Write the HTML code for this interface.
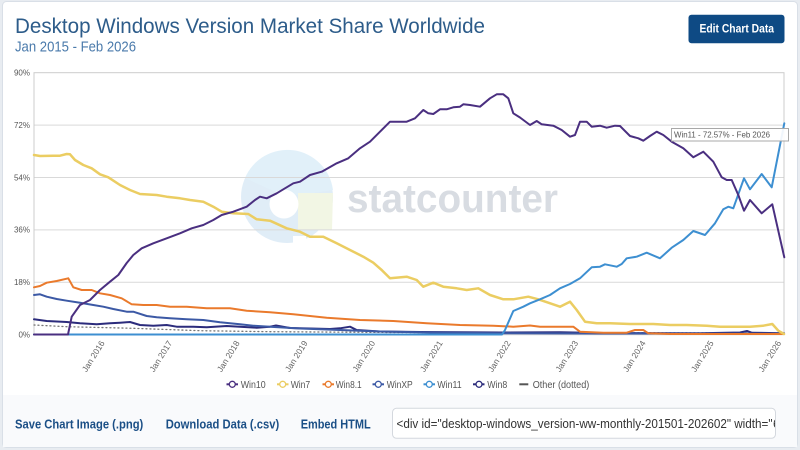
<!DOCTYPE html>
<html><head><meta charset="utf-8"><style>
html,body{margin:0;padding:0;background:#e8ecf1;}
svg{display:block;font-family:"Liberation Sans",Arial,sans-serif;}
</style></head><body>
<svg width="800" height="450" viewBox="0 0 800 450" xmlns="http://www.w3.org/2000/svg">
<rect x="0" y="0" width="800" height="450" fill="#e8ecf1"/>
<rect x="2.5" y="1.5" width="795" height="446" rx="4" fill="#ffffff" stroke="#d9dfe7"/>
<rect x="3" y="395" width="794" height="52" fill="#f9fafc"/>

<!-- title -->
<text x="15" y="33" font-size="21" fill="#2d5c8a" textLength="470" lengthAdjust="spacingAndGlyphs">Desktop Windows Version Market Share Worldwide</text>
<text x="15" y="51.7" font-size="15" fill="#4a7aab" textLength="121" lengthAdjust="spacingAndGlyphs">Jan 2015 - Feb 2026</text>

<!-- button -->
<rect x="688.5" y="14.7" width="96" height="28.6" rx="3" fill="#0e4a84"/>
<text x="699.5" y="32.5" font-size="11.5" font-weight="bold" fill="#ffffff" textLength="74.5" lengthAdjust="spacingAndGlyphs">Edit Chart Data</text>

<!-- watermark -->
<g opacity="0.75">
<circle cx="287" cy="197" r="46" fill="#d6e7f5"/>
<path d="M287,197 L245,178 A46,46 0 0 1 333,190 Z" fill="#d8ecf8"/>
<path d="M298,193 L333,193 L332,230 L298,230 Z" fill="#eef3dc"/>
<path d="M293,236 L306,236 L306,245 L293,245 Z" fill="#ffffff"/>
<circle cx="284" cy="204" r="14.5" fill="#ffffff"/>
</g>
<text x="347" y="212" font-size="40" font-weight="bold" fill="#d8dce2" textLength="211" lengthAdjust="spacingAndGlyphs">statcounter</text>

<!-- grid -->
<g stroke="#d9d9d9" stroke-width="1" fill="none">
<line x1="34" y1="125.1" x2="784" y2="125.1"/>
<line x1="34" y1="177.5" x2="784" y2="177.5"/>
<line x1="34" y1="229.9" x2="784" y2="229.9"/>
<line x1="34" y1="282.3" x2="784" y2="282.3"/>
<rect x="34" y="72.7" width="750" height="262" stroke="#cccccc"/>
</g>

<!-- y labels -->
<g font-size="8" fill="#555" text-anchor="end">
<text x="30" y="75.5">90%</text>
<text x="30" y="127.9">72%</text>
<text x="30" y="180.3">54%</text>
<text x="30" y="232.7">36%</text>
<text x="30" y="285.1">18%</text>
<text x="30" y="337.5">0%</text>
</g>

<!-- x labels -->
<g font-size="8.5" fill="#666" text-anchor="end">
<text transform="translate(105,343) rotate(-58)">Jan 2016</text>
<text transform="translate(172.5,343) rotate(-58)">Jan 2017</text>
<text transform="translate(240,343) rotate(-58)">Jan 2018</text>
<text transform="translate(308,343) rotate(-58)">Jan 2019</text>
<text transform="translate(375.5,343) rotate(-58)">Jan 2020</text>
<text transform="translate(443,343) rotate(-58)">Jan 2021</text>
<text transform="translate(511,343) rotate(-58)">Jan 2022</text>
<text transform="translate(578.5,343) rotate(-58)">Jan 2023</text>
<text transform="translate(646,343) rotate(-58)">Jan 2024</text>
<text transform="translate(714,343) rotate(-58)">Jan 2025</text>
<text transform="translate(781.5,343) rotate(-58)">Jan 2026</text>
</g>

<!-- series -->
<g fill="none" stroke-linejoin="round" stroke-linecap="round">
<polyline stroke="#777" stroke-width="1.3" stroke-dasharray="1,3" points="34,325 66.7,326.7 133.3,328.3 200,330.7 270,331.7 400,332.5 784,333"/>
<polyline stroke="#2c2c7c" stroke-width="2" points="34,319.3 46.7,321 66.7,322 80,323.3 96.7,324.3 110,323.3 120,322.7 130,322 140,325 153.3,325.7 166.7,325 176.7,326.7 193.3,326.7 206.7,327.3 226.7,326 240,326.7 256.7,327.7 270,326.7 276,325.5 290,328 310,328.5 330,329 340,328.3 350,326.7 356.7,330 380,331.5 420,332 500,332.5 560,332.2 600,333 700,333.2 740,332.5 747,331 752,332.8 784,333.2"/>
<polyline stroke="#3c59a5" stroke-width="2" points="34,295 40,294.3 46.7,296.7 56.7,299 66.7,300.7 80,302.7 93.3,305 103.3,306.7 113.3,309 126.7,311.7 133.3,311.7 146.7,316 156.7,317.3 170,318.3 186.7,319.3 203.3,320 220,322.3 240,324.3 253.3,325.7 270,326.7 300,328.5 340,330 380,331.5 430,332.5 500,333.2 600,333.5 784,333.8"/>
<polyline stroke="#ea7a2c" stroke-width="2" points="34,287.3 40,286 46.7,282.7 56.7,281 68.3,278.3 73.3,287.3 81.7,290 91.7,290 100,293.3 110,295 121.7,298.3 131.7,304.3 143.3,305 156.7,305 170,306.7 186.7,306.7 206.7,308.3 230,308.3 246.7,310.7 270,312.3 293.3,314.3 326.7,317.7 360,320 393.3,321 426.7,323.3 460,325 493.3,325.7 513.3,326.7 530,325.5 540,326.7 573.3,326.7 580,331.7 603.3,332.7 626.7,332.7 635,330 643.3,330 648.3,333.3 670,334 784,334"/>
<polyline stroke="#ebcd62" stroke-width="2.5" points="34,155 40,156 53.3,155.7 60,155.7 66.7,154 70,154.3 75,160 83.3,165 91.7,168.3 100,174.3 108.3,177.3 120,185 130,190 140,194 156.7,195 166.7,196.7 180,198.3 190,200 203.3,201.7 213.3,206.7 221.7,211.7 233.3,213.3 248.3,214 256.7,219.3 270,220.7 286.7,228.3 300,231.7 310,236.7 323.3,236.7 336.7,243.3 350,250 363.3,256.7 373.3,262.7 381.7,270 390,278.3 406.7,276.7 416.7,280 423.3,286.7 433.3,282.7 443.3,286.7 456.7,288.3 466.7,290 478.3,288.3 490,295 503.3,299.3 513.3,299.3 528.3,296.7 538.3,299.3 548.3,302.7 560,306.7 570,301.7 576.7,310 585,321.7 596.7,323.3 610,323.3 630,324 653.3,324 670,325 686.7,325 706.7,325.7 720,326.7 733.3,326.7 750,326.7 763.3,325.7 772.3,324 778.3,330.7 784,334"/>
<polyline stroke="#3d8fd1" stroke-width="2" points="34,334.5 502,334.5 505,330 513.3,311 523.3,306.7 530,303.3 540,299.3 550,295 560,288.3 570,284 580,278.3 591.7,267.3 600,266.7 605,264.3 616.7,266.7 621.7,264 626.7,258.3 636.7,256.7 646.7,252.7 660,258.3 671.7,247.7 683.3,240 693.3,231 705,235 715,223.3 723.3,209.3 728.3,206.7 733.3,208.3 744,178.3 750,189.3 761.7,174 771.7,187.3 784.3,123.3"/>
<polyline stroke="#4a2f80" stroke-width="2" points="34,334.5 68,334.5 71.7,316.7 80,305 90,300 100,290 110,281.7 118.3,275 126.7,263 133.3,255 141.7,248.3 153.3,243.3 166.7,238.3 180,233.3 191.7,228.3 203.3,225 213.3,220 221.7,215 233.3,211.7 246.7,206.7 255,200 260,196.7 266.7,198.3 276.7,193.3 293.3,183.3 300,181.7 310,175 321.7,171.7 336.7,163.3 348.3,158.3 360,148.3 370,141.7 380,131.7 390,121.7 406.7,121.7 415,118.3 423.3,110 428.3,113.3 433.3,114 440,109.3 446.7,109.3 453.3,107.3 460,106.7 463.3,104.3 470,105 480,106.7 490,98.3 496.7,94.3 503.3,94.3 508.3,98.3 513.3,113.3 520,117.5 530,125 536.7,121 541.7,124.3 553.3,125.7 561.7,130 570,136.7 575,135 580,121.7 586.7,121.7 591.7,126.7 600,125.7 606.7,127.7 615,125.7 620,126 630,136 638.3,138.3 643.3,140.7 650,136 656.7,131.7 663.3,135 671.7,141.7 683.3,148.3 693.3,157.3 703.3,151.7 713.3,161.7 721.7,177.3 726.7,180 731.7,180 738.3,195 744,210.7 750,200 761.7,213.3 772.3,204.3 784.3,257.3"/>
</g>

<!-- tooltip -->
<rect x="671.5" y="128.5" width="117" height="12.5" fill="#ffffff" fill-opacity="0.92" stroke="#a8a8a8" stroke-width="1"/>
<text x="674" y="137.5" font-size="8" fill="#555" textLength="96" lengthAdjust="spacingAndGlyphs">Win11 - 72.57% - Feb 2026</text>

<!-- legend -->
<g stroke-width="2" fill="#fff">
<line x1="226.5" y1="384.3" x2="238" y2="384.3" stroke="#4a2f80"/><circle cx="232.3" cy="384.3" r="3" stroke="#4a2f80" stroke-width="1.3"/>
<line x1="277" y1="384.3" x2="288.5" y2="384.3" stroke="#ebcd62"/><circle cx="282.7" cy="384.3" r="3" stroke="#ebcd62" stroke-width="1.3"/>
<line x1="322.5" y1="384.3" x2="334" y2="384.3" stroke="#ea7a2c"/><circle cx="328.3" cy="384.3" r="3" stroke="#ea7a2c" stroke-width="1.3"/>
<line x1="372.5" y1="384.3" x2="384" y2="384.3" stroke="#3c59a5"/><circle cx="378.3" cy="384.3" r="3" stroke="#3c59a5" stroke-width="1.3"/>
<line x1="423.5" y1="384.3" x2="435" y2="384.3" stroke="#3d8fd1"/><circle cx="429.3" cy="384.3" r="3" stroke="#3d8fd1" stroke-width="1.3"/>
<line x1="473" y1="384.3" x2="484.5" y2="384.3" stroke="#2c2c7c"/><circle cx="479" cy="384.3" r="3" stroke="#2c2c7c" stroke-width="1.3"/>
<line x1="519.3" y1="384.3" x2="528.3" y2="384.3" stroke="#555"/>
</g>
<g font-size="10" fill="#555">
<text x="240.7" y="387.8" textLength="25" lengthAdjust="spacingAndGlyphs">Win10</text>
<text x="290.7" y="387.8" textLength="19.5" lengthAdjust="spacingAndGlyphs">Win7</text>
<text x="335.7" y="387.8" textLength="26" lengthAdjust="spacingAndGlyphs">Win8.1</text>
<text x="386.7" y="387.8" textLength="26" lengthAdjust="spacingAndGlyphs">WinXP</text>
<text x="437.3" y="387.8" textLength="24.4" lengthAdjust="spacingAndGlyphs">Win11</text>
<text x="487.3" y="387.8" textLength="20" lengthAdjust="spacingAndGlyphs">Win8</text>
<text x="532.7" y="387.8" textLength="56.6" lengthAdjust="spacingAndGlyphs">Other (dotted)</text>
</g>

<!-- bottom links -->
<g font-size="12.5" font-weight="bold" fill="#1b4f86">
<text x="15" y="428.3" textLength="128.3" lengthAdjust="spacingAndGlyphs">Save Chart Image (.png)</text>
<text x="165.7" y="428.3" textLength="113.6" lengthAdjust="spacingAndGlyphs">Download Data (.csv)</text>
<text x="300.7" y="428.3" textLength="70" lengthAdjust="spacingAndGlyphs">Embed HTML</text>
</g>
<defs><clipPath id="ic"><rect x="393" y="409" width="382" height="29"/></clipPath></defs>
<rect x="392.5" y="408.3" width="383" height="30" rx="4" fill="#ffffff" stroke="#d4d8de"/>
<g clip-path="url(#ic)">
<text x="396.5" y="428" font-size="12.5" fill="#333" textLength="376" lengthAdjust="spacingAndGlyphs">&lt;div id="desktop-windows_version-ww-monthly-201501-202602" width="</text>
<text x="773" y="428" font-size="12.5" fill="#333">600"</text>
</g>
</svg>
</body></html>
